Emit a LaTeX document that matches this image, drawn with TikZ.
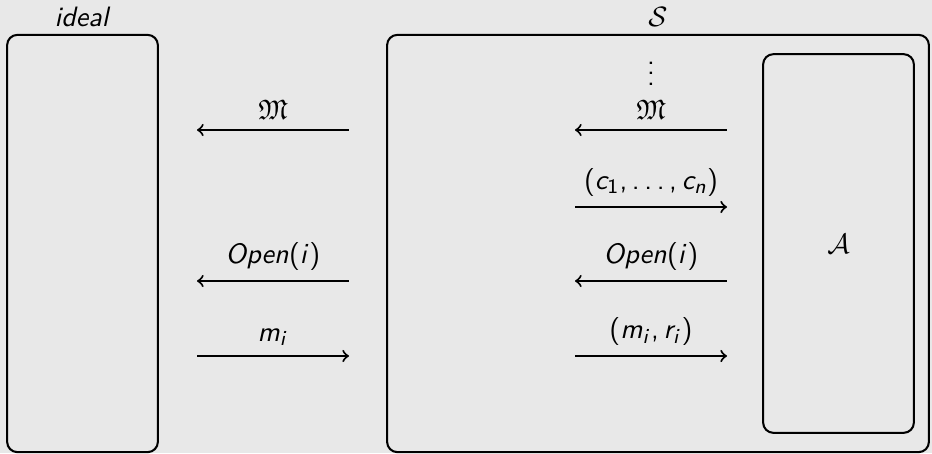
\documentclass[tikz,border=0pt,11pt]{standalone}
\usepackage{amsmath,amssymb}
\usepackage{xcolor}
\usepackage{tikz}
\usetikzlibrary{positioning}
\renewcommand{\familydefault}{\sfdefault}
% sans serif math letters and digits, as on a slide
\DeclareSymbolFont{operators}{OT1}{cmss}{m}{n}
\DeclareSymbolFont{letters}{OT1}{cmss}{m}{it}
\mathcode`\,="602C
\DeclareMathSymbol{\ldotp}{\mathpunct}{operators}{"2E}
\definecolor{slidebg}{HTML}{E8E8E8}

\begin{document}
\begin{tikzpicture}[
    x=0.01373cm,y=-0.01373cm,
    party/.style={draw,thick,rounded corners=4pt,minimum width=2.07cm,
      minimum height=5.73cm,inner sep=0pt},
    simbox/.style={draw,thick,rounded corners=4pt,minimum width=7.44cm,
      minimum height=5.73cm,inner sep=0pt},
    advbox/.style={draw,thick,rounded corners=4pt,minimum width=2.07cm,
      minimum height=5.20cm,inner sep=0pt},
    msg/.style={thick}
  ]
    \fill[slidebg] (0,0) rectangle (932,453);
    \useasboundingbox (0,0) rectangle (932,453);

    \node[party] (ideal) at (82.5,243.5) {};
    \node[above=-1pt of ideal] (idealname) {\textit{ideal}};
    \node[simbox] (sim) at (658,243.5) {};
    \node[above=-1pt of sim] (simname) {$\mathcal{S}$};
    \node[advbox] (adv) at (838.5,243.5) {$\mathcal{A}$};
    \node (dots) at (651,66) {$\vdots$};

    \foreach \row/\y in {a/130,b/207,c/281,d/356} {
      \coordinate (l\row w) at (197,\y);
      \coordinate (l\row e) at (349,\y);
      \coordinate (r\row w) at (575,\y);
      \coordinate (r\row e) at (727,\y);
    }

    \draw[msg,<-] (law) -- node[above] {$\mathfrak{M}$} (lae);
    \draw[msg,<-] (lcw) -- node[above] {$Open(i)$} (lce);
    \draw[msg,->] (ldw) -- node[above] {$m_i$} (lde);

    \draw[msg,<-] (raw) -- node[above] {$\mathfrak{M}$} (rae);
    \draw[msg,->] (rbw) -- node[above] {$(c_1,\ldots,c_n)$} (rbe);
    \draw[msg,<-] (rcw) -- node[above] {$Open(i)$} (rce);
    \draw[msg,->] (rdw) -- node[above] {$(m_i,r_i)$} (rde);
  \end{tikzpicture}
\end{document}
